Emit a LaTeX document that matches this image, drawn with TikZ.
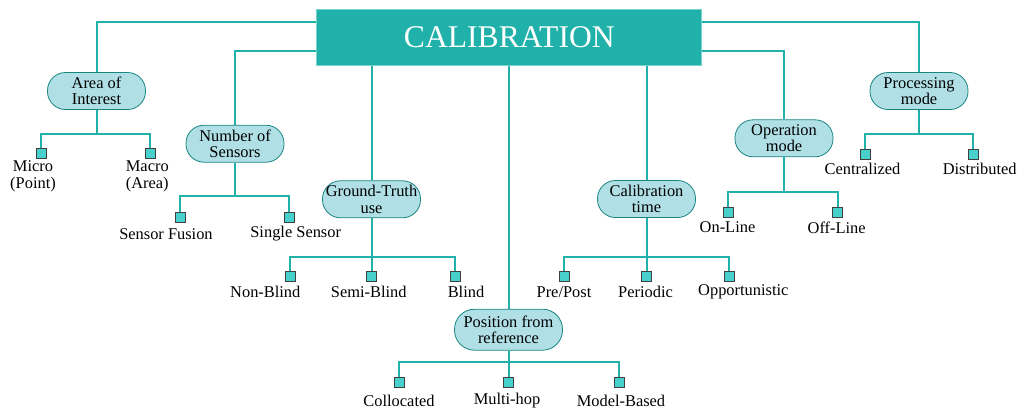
\documentclass[tikz,border=0pt]{standalone}
\usepackage{fontspec}
\setmainfont{Liberation Serif}
\definecolor{seagreen}{HTML}{20B2AA}
\definecolor{powder}{HTML}{B0E0E6}
\definecolor{turq}{HTML}{48D1CC}
\begin{document}
\begin{tikzpicture}[x=0.5pt, y=-0.5pt, font=\fontsize{8.2}{8.2}\selectfont,
    group/.style={draw=seagreen!75!black, fill=powder, rounded corners=9pt,
        minimum width=49pt, minimum height=18.5pt, inner sep=0pt, align=center},
    leaf/.style={draw=black!75, fill=turq, minimum size=5pt, inner sep=0pt},
    word/.style={inner sep=0pt, align=center},
    link/.style={draw=seagreen, line width=1pt}]

\useasboundingbox (0,0) rectangle (1022,412);

% nodes
\node[fill=seagreen, draw=seagreen!60!white, text=white, minimum width=192.5pt,
    minimum height=28pt, font=\fontsize{15.8}{16}\selectfont] (CAL) at (509.3, 37.3) {CALIBRATION};

\node[group] (AOI) at (96.5, 91) {Area of\\Interest};
\node[group] (NOS) at (235, 143.7) {Number of\\Sensors};
\node[group] (GTU) at (371.5, 199.3) {Ground-Truth\\use};
\node[group, minimum width=54pt, minimum height=20.5pt, rounded corners=10pt] (PFR) at (508.5, 329.7) {Position from\\reference};
\node[group] (CT) at (646.5, 199) {Calibration\\time};
\node[group] (OM) at (784, 138.3) {Operation\\mode};
\node[group] (PM) at (919, 91) {Processing\\mode};

% bars
\coordinate (AOIbar) at (96.5, 134);
\coordinate (NOSbar) at (235, 195.5);
\coordinate (GTUbar) at (371.5, 257.3);
\coordinate (PFRbar) at (508.5, 362.3);
\coordinate (CTbar) at (646.5, 257.3);
\coordinate (OMbar) at (784, 191.7);
\coordinate (PMbar) at (919, 134);

% leaves
\node[leaf] (AOIa) at (41.3, 153.7) {};
\node[leaf] (AOIb) at (150.3, 153.7) {};
\node[leaf] (NOSa) at (180, 217) {};
\node[leaf] (NOSb) at (289, 217) {};
\node[leaf] (GTUa) at (290, 276.7) {};
\node[leaf] (GTUb) at (371.5, 276.7) {};
\node[leaf] (GTUc) at (455, 276.7) {};
\node[leaf] (PFRa) at (399.3, 382) {};
\node[leaf] (PFRb) at (508.5, 382) {};
\node[leaf] (PFRc) at (619.3, 382) {};
\node[leaf] (CTa) at (564.3, 276.7) {};
\node[leaf] (CTb) at (646.5, 276.7) {};
\node[leaf] (CTc) at (729.3, 276.7) {};
\node[leaf] (OMa) at (728.3, 212.3) {};
\node[leaf] (OMb) at (837.7, 212.3) {};
\node[leaf] (PMa) at (865, 154) {};
\node[leaf] (PMb) at (973.3, 154) {};

% labels
\node[word] (AOIat) at (33, 176.5) {Micro\\(Point)};
\node[word] (AOIbt) at (147.3, 176.5) {Macro\\(Area)};
\node[word] (NOSat) at (166, 234) {Sensor Fusion};
\node[word] (NOSbt) at (295.7, 234) {Single Sensor};
\node[word] (GTUat) at (265.3, 292) {Non-Blind};
\node[word] (GTUbt) at (368.8, 292) {Semi-Blind};
\node[word] (GTUct) at (466, 292) {Blind};
\node[word] (PFRat) at (399, 400.5) {Collocated};
\node[word] (PFRbt) at (507, 400.5) {Multi-hop};
\node[word] (PFRct) at (621, 400.5) {Model-Based};
\node[word] (CTat) at (564, 292) {Pre/Post};
\node[word] (CTbt) at (645.5, 292) {Periodic};
\node[word] (CTct) at (743.3, 292) {Opportunistic};
\node[word] (OMat) at (727.5, 227.5) {On-Line};
\node[word] (OMbt) at (836.7, 227.5) {Off-Line};
\node[word] (PMat) at (862.5, 168.5) {Centralized};
\node[word] (PMbt) at (979.7, 168.5) {Distributed};

% connectors
\draw[link]
    (AOI.north) |- ([yshift=-6.7pt]CAL.north west)
    (NOS.north) |- ([yshift=-21.2pt]CAL.north west)
    (GTU.north) -- (GTU.north |- CAL.south)
    (PFR.north) -- (PFR.north |- CAL.south)
    (CT.north) -- (CT.north |- CAL.south)
    (OM.north) |- ([yshift=-21.2pt]CAL.north east)
    (PM.north) |- ([yshift=-6.7pt]CAL.north east)
    ;
\draw[link]
    (AOI) -- (AOIbar) -| (AOIa) (AOIbar) -| (AOIb)
    (NOS) -- (NOSbar) -| (NOSa) (NOSbar) -| (NOSb)
    (GTU) -- (GTUbar) -| (GTUa) (GTUbar) -| (GTUc) (GTUbar) -- (GTUb)
    (PFR) -- (PFRbar) -| (PFRa) (PFRbar) -| (PFRc) (PFRbar) -- (PFRb)
    (CT) -- (CTbar) -| (CTa) (CTbar) -| (CTc) (CTbar) -- (CTb)
    (OM) -- (OMbar) -| (OMa) (OMbar) -| (OMb)
    (PM) -- (PMbar) -| (PMa) (PMbar) -| (PMb)
    ;
\end{tikzpicture}
\end{document}
